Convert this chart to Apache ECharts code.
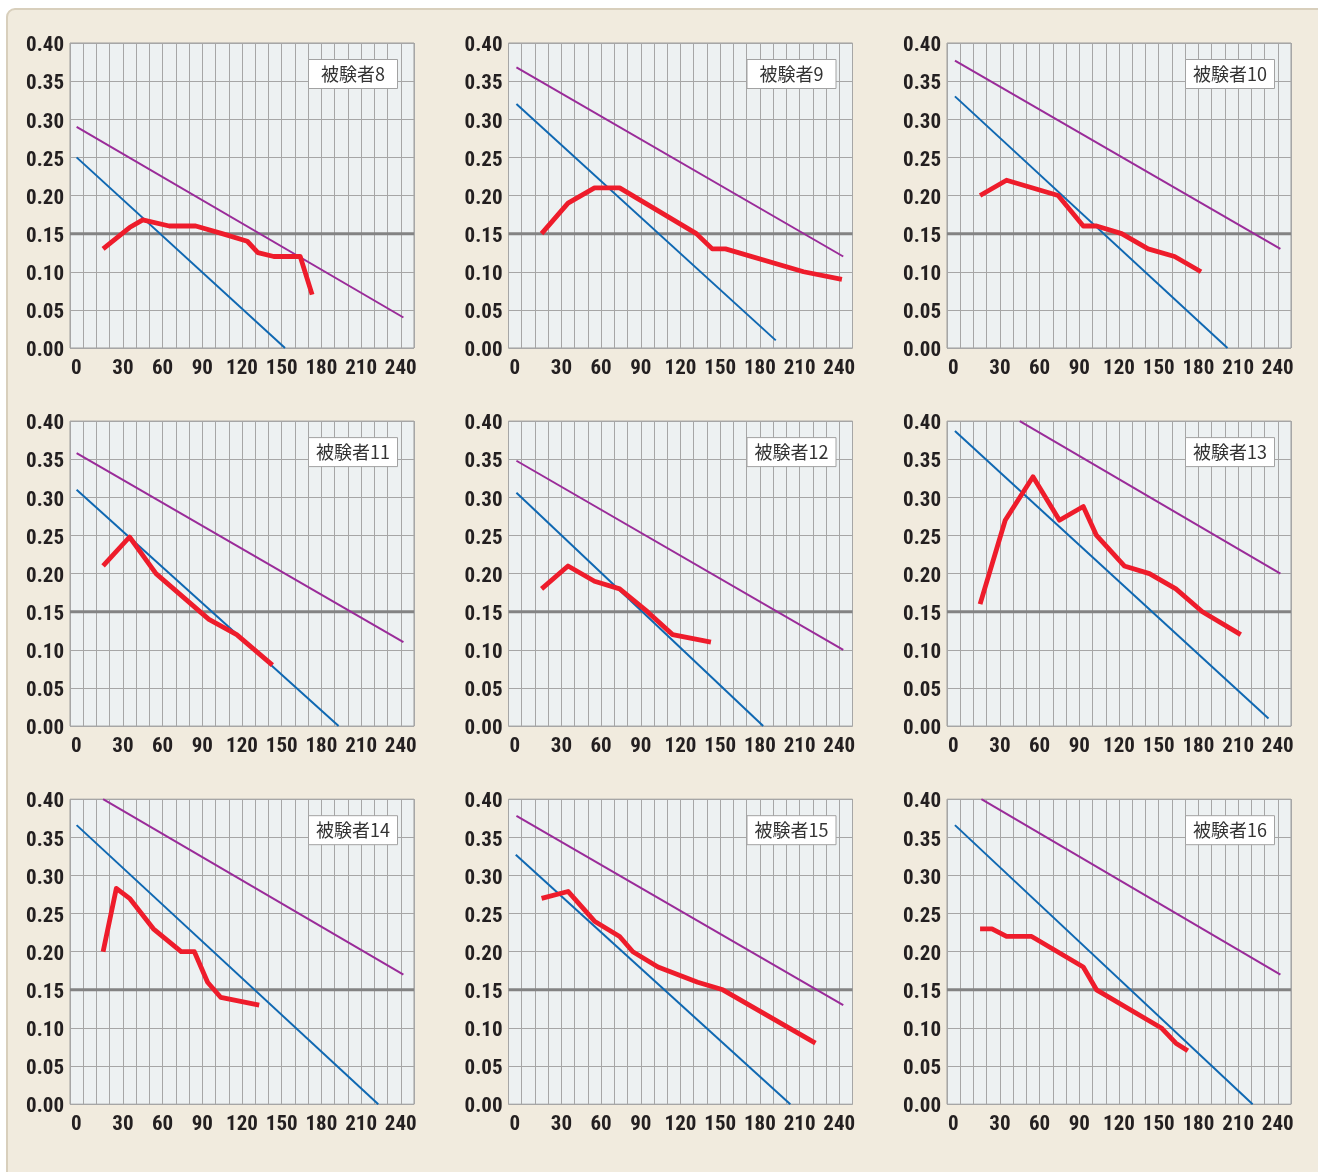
<!DOCTYPE html>
<html><head><meta charset="utf-8">
<script src="https://cdn.jsdelivr.net/npm/echarts@6/dist/echarts.min.js"></script>
<style>html,body{margin:0;padding:0;background:#fff}#c{width:1318px;height:1172px}</style>
</head><body><div id="c"></div>
<script>
// ---- data ----
const subjects = ['被験者8','被験者9','被験者10','被験者11','被験者12','被験者13','被験者14','被験者15','被験者16'];
const xTickLabels = [0, 30, 60, 90, 120, 150, 180, 210, 240];
const yTickLabels = [0.00, 0.05, 0.10, 0.15, 0.20, 0.25, 0.30, 0.35, 0.40];
const thresholdY = 0.15;

const red8  = [[15,0.13],[35,0.158],[45,0.168],[65,0.16],[85,0.16],[105,0.15],[124,0.14],[132,0.125],[144,0.12],[164,0.12],[173,0.07]];
const red9  = [[15,0.15],[35,0.19],[55,0.21],[74,0.21],[132,0.15],[144,0.13],[154,0.13],[213,0.10],[242,0.09]];
const red10 = [[15,0.20],[35,0.22],[74,0.20],[93,0.16],[103,0.16],[122,0.15],[142,0.13],[162,0.12],[182,0.10]];
const red11 = [[15,0.21],[35,0.248],[55,0.20],[95,0.14],[116,0.12],[143,0.08]];
const red12 = [[15,0.18],[35,0.21],[55,0.19],[74,0.18],[95,0.15],[114,0.12],[143,0.11]];
const red13 = [[15,0.16],[34,0.27],[55,0.327],[75,0.27],[93,0.288],[103,0.25],[124,0.21],[143,0.20],[163,0.18],[183,0.15],[212,0.12]];
const red14 = [[15,0.20],[25,0.283],[35,0.27],[53,0.23],[74,0.20],[84,0.20],[94,0.16],[104,0.14],[133,0.13]];
const red15 = [[15,0.27],[35,0.279],[55,0.24],[74,0.22],[84,0.20],[103,0.18],[133,0.16],[152,0.15],[222,0.08]];
const red16 = [[15,0.23],[24,0.23],[35,0.22],[54,0.22],[93,0.18],[103,0.15],[152,0.10],[163,0.08],[172,0.07]];

const blue8  = [[-5,0.25],[152.5,0]];
const blue9  = [[-4,0.32],[192,0.01]];
const blue10 = [[-4,0.33],[202,0]];
const blue11 = [[-5,0.31],[193,0]];
const blue12 = [[-4,0.306],[182.5,0]];
const blue13 = [[-4,0.387],[233,0.01]];
const blue14 = [[-5,0.366],[223,0]];
const blue15 = [[-4.5,0.327],[203,0]];
const blue16 = [[-4,0.366],[221,0]];

const purple8  = [[-5,0.29],[242,0.04]];
const purple9  = [[-4,0.368],[243,0.12]];
const purple10 = [[-4,0.377],[242,0.13]];
const purple11 = [[-5,0.358],[242,0.11]];
const purple12 = [[-4,0.348],[243,0.10]];
const purple13 = [[45,0.40],[242,0.20]];
const purple14 = [[15,0.40],[242,0.17]];
const purple15 = [[-4,0.378],[243,0.13]];
const purple16 = [[16,0.40],[242,0.17]];

const reds = [red8,red9,red10,red11,red12,red13,red14,red15,red16];
const blues = [blue8,blue9,blue10,blue11,blue12,blue13,blue14,blue15,blue16];
const purples = [purple8,purple9,purple10,purple11,purple12,purple13,purple14,purple15,purple16];

// ---- layout / style ----
const W = 1318;
const FONT = "'Liberation Sans Narrow','Arial Narrow','Roboto Condensed','Noto Sans Condensed','Noto Sans','DejaVu Sans',sans-serif";
const FW = 'bold condensed';
const gridW = 344, gridH = 305;
const grids = [], xAxes = [], yAxes = [], series = [], titles = [];

for (let i = 0; i < 9; i++) {
  const col = i % 3, row = Math.floor(i / 3);
  const left = 70 + col * 438.5;
  const top = 43 + row * 378.1;
  grids.push({ left, top, width: gridW, height: gridH, show: true,
    backgroundColor: '#edf1f2', borderColor: '#9d9d9d', borderWidth: 1 });
  xAxes.push({ type: 'value', gridIndex: i, min: -10, max: 250, interval: 10,
    axisLine: { show: false }, axisTick: { show: false },
    splitLine: { show: true, lineStyle: { color: '#a6a6a6', width: 1 } },
    axisLabel: { margin: 10, color: '#231f20', fontSize: 21, fontWeight: FW, fontFamily: FONT,
      showMinLabel: false, showMaxLabel: false,
      formatter: v => {
        if (xTickLabels.indexOf(v) < 0) return '';
        return v === 0 ? '{z|0}' : String(v);
      },
      rich: { z: { fontSize: 21, fontWeight: FW, fontFamily: FONT, color: '#231f20', padding: [0, 14, 0, 0] } }
    }
  });
  yAxes.push({ type: 'value', gridIndex: i, min: yTickLabels[0], max: yTickLabels[yTickLabels.length - 1], interval: 0.05,
    axisLine: { show: false }, axisTick: { show: false },
    splitLine: { show: true, lineStyle: { color: '#a6a6a6', width: 1 } },
    axisLabel: { margin: 6, color: '#231f20', fontSize: 21, fontWeight: FW, fontFamily: FONT,
      formatter: v => '{v|' + v.toFixed(2) + '}',
      rich: { v: { fontSize: 21, fontWeight: FW, fontFamily: FONT, color: '#231f20', padding: [6, 0, 0, 0] } } }
  });
  series.push({ type: 'line', xAxisIndex: i, yAxisIndex: i, symbol: 'none', silent: true, z: 2,
    data: [[-10, thresholdY], [250, thresholdY]], lineStyle: { color: '#838383', width: 3 } });
  series.push({ type: 'line', xAxisIndex: i, yAxisIndex: i, symbol: 'none', z: 3,
    data: blues[i], lineStyle: { color: '#0f68b2', width: 2 } });
  series.push({ type: 'line', xAxisIndex: i, yAxisIndex: i, symbol: 'none', z: 3,
    data: purples[i], lineStyle: { color: '#9a2b99', width: 2 } });
  series.push({ type: 'line', xAxisIndex: i, yAxisIndex: i, symbol: 'none', z: 4,
    data: reds[i], lineStyle: { color: '#ee1c2b', width: 4.8, join: 'round', cap: 'butt' } });
  titles.push({ text: '{a|' + subjects[i] + '}', right: W - (left + gridW - 16), top: top + 16,
    backgroundColor: '#ffffff', borderColor: '#a2a2a2', borderWidth: 1, padding: [5, 5],
    textStyle: { fontWeight: 'normal', rich: { a: { width: 80, height: 20, lineHeight: 20, align: 'center', fontSize: 18,
      fontWeight: 'normal', color: '#333333', fontFamily: "'Noto Sans CJK JP','Noto Sans',sans-serif" } } } });
}

const chart = echarts.init(document.getElementById('c'), null, { renderer: 'canvas' });
chart.setOption({
  backgroundColor: '#ffffff',
  animation: false,
  graphic: [{ type: 'rect', left: 6, top: 8, z: -10,
    shape: { width: 1320, height: 1180, r: 8 },
    style: { fill: '#f1ebde', stroke: '#d8cfbc', lineWidth: 2 } }],
  title: titles,
  grid: grids,
  xAxis: xAxes,
  yAxis: yAxes,
  series
});
</script></body></html>
